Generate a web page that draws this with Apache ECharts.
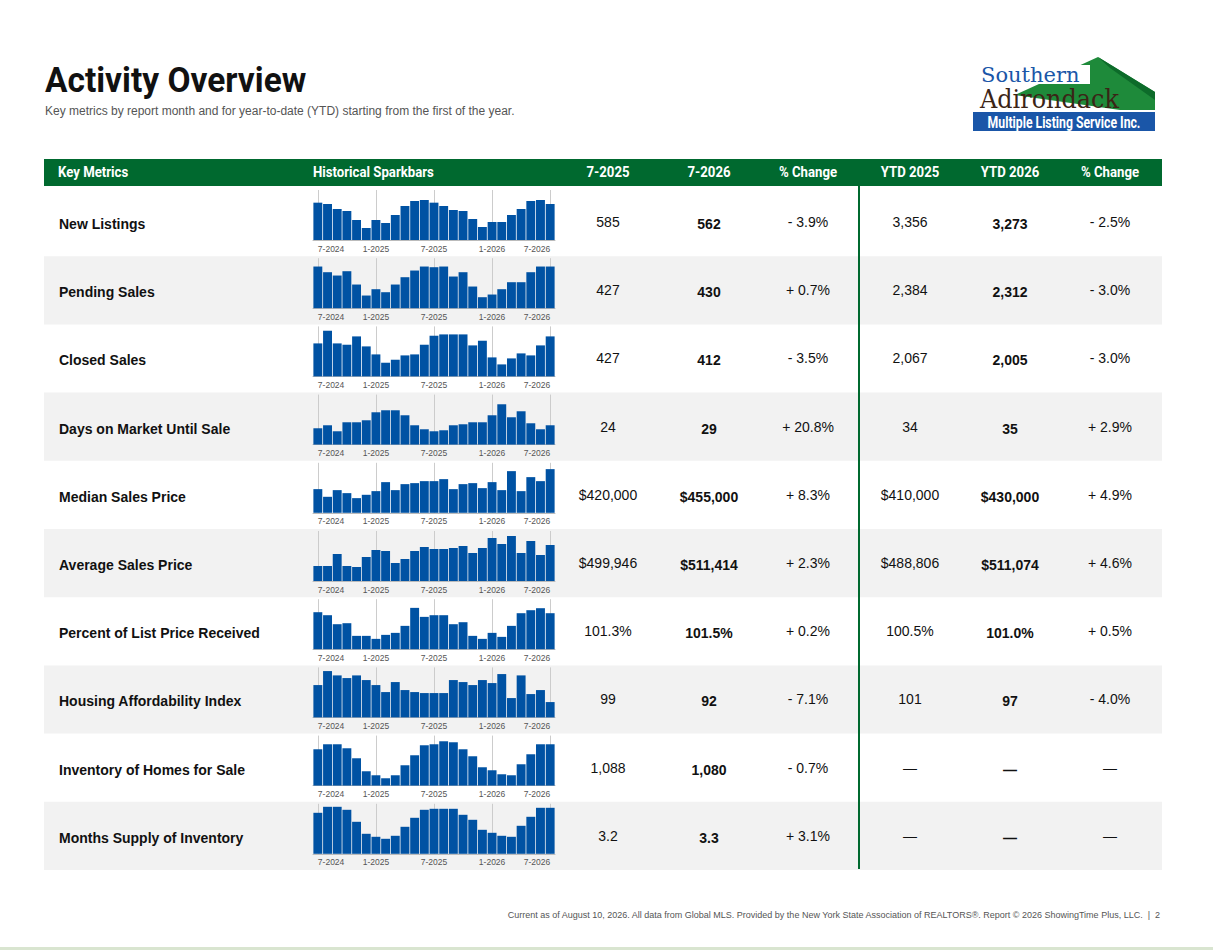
<!DOCTYPE html>
<html><head><meta charset="utf-8">
<script src="https://cdn.jsdelivr.net/npm/echarts@6/dist/echarts.min.js"></script>
<style>html,body{margin:0;padding:0;background:#fff}#c{width:1213px;height:951px}</style>
</head><body><div id="c"></div>
<script>
const months = ['7-2024','8-2024','9-2024','10-2024','11-2024','12-2024','1-2025','2-2025','3-2025','4-2025','5-2025','6-2025','7-2025','8-2025','9-2025','10-2025','11-2025','12-2025','1-2026','2-2026','3-2026','4-2026','5-2026','6-2026','7-2026'];
const metrics = ['New Listings','Pending Sales','Closed Sales','Days on Market Until Sale','Median Sales Price','Average Sales Price','Percent of List Price Received','Housing Affordability Index','Inventory of Homes for Sale','Months Supply of Inventory'];
const col2025 = ['585','427','427','24','$420,000','$499,946','101.3%','99','1,088','3.2'];
const col2026 = ['562','430','412','29','$455,000','$511,414','101.5%','92','1,080','3.3'];
const colChg = ['- 3.9%','+ 0.7%','- 3.5%','+ 20.8%','+ 8.3%','+ 2.3%','+ 0.2%','- 7.1%','- 0.7%','+ 3.1%'];
const ytd2025 = ['3,356','2,384','2,067','34','$410,000','$488,806','100.5%','101','—','—'];
const ytd2026 = ['3,273','2,312','2,005','35','$430,000','$511,074','101.0%','97','—','—'];
const ytdChg = ['- 2.5%','- 3.0%','- 3.0%','+ 2.9%','+ 4.9%','+ 4.6%','+ 0.5%','- 4.0%','—','—'];
// relative sparkbar heights
const sNew = [112,108,93,87,60,36,60,51,75,102,117,120,112,102,90,87,63,39,54,54,75,93,117,120,108];
const sPend = [125,108,98,111,71,38,57,48,71,93,113,125,123,125,95,108,65,33,41,57,78,78,108,125,125];
const sClosed = [99,137,99,95,120,90,66,41,50,63,66,95,122,126,126,126,93,107,57,36,54,69,63,93,120];
const sDom = [49,58,40,67,67,73,97,103,103,88,58,46,40,43,58,61,67,67,88,121,82,100,64,46,58];
const sMed = [71,48,68,59,44,54,65,92,68,86,89,95,95,101,71,86,89,74,92,68,125,65,107,95,131];
const sAvg = [45,45,81,45,42,72,93,90,54,66,90,102,96,96,99,105,84,99,129,111,135,84,120,78,108];
const sPct = [111,102,75,78,40,40,31,43,49,70,124,97,102,102,75,81,40,31,49,37,70,108,117,123,108];
const sHai = [97,139,126,118,126,112,97,76,106,82,76,73,73,73,112,106,97,112,103,130,58,126,70,82,46];
const sInv = [109,124,124,112,82,43,31,22,31,61,91,121,124,133,130,109,88,55,46,34,31,64,94,124,124];
const sMsi = [123,141,141,132,96,60,51,45,54,81,108,132,135,135,135,117,102,72,63,54,51,84,111,138,138];
const spark = [sNew,sPend,sClosed,sDom,sMed,sAvg,sPct,sHai,sInv,sMsi];

const ROW0 = 189, RH = 68.2;
const grid=[],xAxis=[],yAxis=[],series=[],graphic=[];
const F='Roboto, "Liberation Sans", Arial, sans-serif';
const A='"Liberation Sans", Arial, sans-serif';
const txt=(x,y,t,o)=>graphic.push({type:'text',x,y,z:10,style:Object.assign({text:t,fill:'#111',font:'14px '+A,textVerticalAlign:'middle'},o||{})});
// header bar
graphic.push({type:'rect',shape:{x:44,y:159,width:1118,height:27},style:{fill:'#00692f'},z:1});
const hdr=[[58,'Key Metrics','left'],[313,'Historical Sparkbars','left'],[608,'7-2025','center'],[709,'7-2026','center'],[808,'% Change','center'],[910,'YTD 2025','center'],[1010,'YTD 2026','center'],[1110,'% Change','center']];
hdr.forEach(h=>graphic.push({type:'text',x:h[0],y:172,z:10,scaleX:0.88,style:{text:h[1],fill:'#fff',font:'bold 15px '+F,textAlign:h[2],textVerticalAlign:'middle'}}));
metrics.forEach((m,i)=>{
  const top=ROW0+i*RH, cy=top+34;
  if(i%2===1) graphic.push({type:'rect',shape:{x:44,y:top-1,width:1118,height:RH},style:{fill:'#f2f2f2'},z:0});
  txt(59,cy+1,m,{font:'bold 14px '+A});
  txt(608,cy-1,col2025[i],{textAlign:'center'});
  txt(709,cy+1,col2026[i],{textAlign:'center',font:'bold 14px '+A});
  txt(808,cy-1,colChg[i],{textAlign:'center'});
  txt(910,cy-1,ytd2025[i],{textAlign:'center'});
  txt(1010,cy+1,ytd2026[i],{textAlign:'center',font:'bold 14px '+A});
  txt(1110,cy-1,ytdChg[i],{textAlign:'center'});
  grid.push({left:313,width:242,top:top+1,height:50});
  xAxis.push({type:'category',gridIndex:i,data:months,axisTick:{show:false},axisLine:{lineStyle:{color:'#bbb'}},
    axisLabel:{interval:5,color:'#555',fontSize:8.5,fontFamily:A,margin:4,alignMinLabel:'left',alignMaxLabel:'right'}});
  yAxis.push({type:'value',gridIndex:i,min:0,max:150,show:false,splitLine:{show:false}});
  series.push({type:'bar',xAxisIndex:i,yAxisIndex:i,data:spark[i],barCategoryGap:'8%',itemStyle:{color:'#0052a3'},
    markLine:{silent:true,symbol:'none',label:{show:false},lineStyle:{color:'#ccc',type:'solid',width:1},z:0,
      data:[0,6,12,18,24].map(k=>({xAxis:months[k]}))}, z:2});
});
graphic.push({type:'line',shape:{x1:859,y1:186,x2:859,y2:869},style:{stroke:'#00692f',lineWidth:2},z:5});
// title
graphic.push({type:'text',x:45,y:80,scaleX:0.93,z:10,style:{text:'Activity Overview',fill:'#111',font:'bold 36px '+F,textVerticalAlign:'middle'}});
txt(45,111,'Key metrics by report month and for year-to-date (YTD) starting from the first of the year.',{font:'12px '+A,fill:'#555'});
// logo
graphic.push({type:'polygon',shape:{points:[[1015,95],[1098,57],[1155,92],[1155,110],[1120,110]]},style:{fill:'#1e8a3a'},z:3});
graphic.push({type:'polygon',shape:{points:[[1098,57],[1155,92],[1155,100],[1110,68]]},style:{fill:'#0d6b2a'},z:3});
graphic.push({type:'rect',shape:{x:978,y:65,width:112,height:19},style:{fill:'#fff'},z:4});
txt(981,75,'Southern',{font:'21px "DejaVu Serif", serif',fill:'#1a56a8'});
graphic.push({type:'text',x:980,y:99,scaleX:0.92,z:10,style:{text:'Adirondack',fill:'#3b2416',font:'26px "DejaVu Serif", serif',textVerticalAlign:'middle'}});
graphic.push({type:'rect',shape:{x:973,y:112,width:182,height:19},style:{fill:'#1a56a8'},z:3});
graphic.push({type:'text',x:1064,y:122,scaleX:0.72,z:10,style:{text:'Multiple Listing Service Inc.',fill:'#fff',font:'bold 17px '+F,textAlign:'center',textVerticalAlign:'middle'}});
// footer
txt(1160,915,'Current as of August 10, 2026. All data from Global MLS. Provided by the New York State Association of REALTORS®. Report © 2026 ShowingTime Plus, LLC.  |  2',{font:'9px '+A,fill:'#555',textAlign:'right'});
graphic.push({type:'rect',shape:{x:0,y:947,width:1213,height:3},style:{fill:'#d9e5d0'},z:1});

const chart=echarts.init(document.getElementById('c'),null,{renderer:'svg'});
chart.setOption({animation:false,grid,xAxis,yAxis,series,graphic});
</script></body></html>
